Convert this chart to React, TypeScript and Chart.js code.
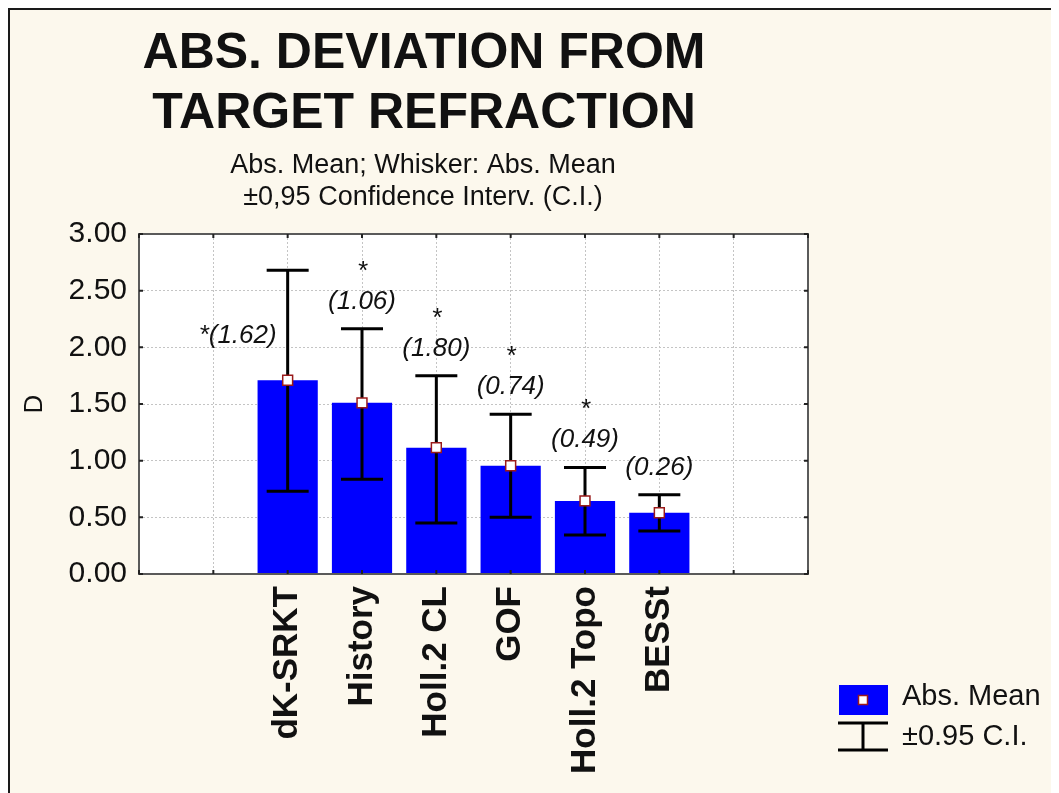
import { useEffect, useRef } from 'react';
import { Chart, registerables } from 'chart.js';

Chart.register(...registerables);

// ---- data ----
const categories = ['dK-SRKT', 'History', 'Holl.2 CL', 'GOF', 'Holl.2 Topo', 'BESSt'];
const absMean = [1.71, 1.51, 1.115, 0.955, 0.645, 0.54];
const ciLow = [0.73, 0.835, 0.45, 0.5, 0.345, 0.38];
const ciHigh = [2.68, 2.165, 1.75, 1.41, 0.94, 0.7];
const noteValues = [1.62, 1.06, 1.8, 0.74, 0.49, 0.26];
const significant = [true, true, true, true, true, false];
const notePlacement = ['left', 'above', 'above', 'above', 'above', 'above'];
const emptySlotsBefore = 2;
const emptySlotsAfter = 2;
const yMin = 0;
const yMax = 3;
const yStep = 0.5;
const titleLines = ['ABS. DEVIATION FROM', 'TARGET REFRACTION'];
const subtitleLines = ['Abs. Mean; Whisker: Abs. Mean', '±0,95 Confidence Interv. (C.I.)'];
const yAxisTitle = 'D';
const legendLabels = ['Abs. Mean', '±0.95 C.I.'];

// ---- styling ----
const FONT = '"Liberation Sans", Arial, Helvetica, sans-serif';
const BG = '#FCF8ED';
const TEXT = '#111111';
const BAR = '#0000FF';
const GRID = '#c4c4c4';
const W = 1051;
const H = 785;

const pad = (arr: (number | null)[]) => [
  ...Array(emptySlotsBefore).fill(null),
  ...arr,
  ...Array(emptySlotsAfter).fill(null),
];
const axisLabels = pad(categories.map(() => null)).map((_, i) =>
  i >= emptySlotsBefore && i < emptySlotsBefore + categories.length ? categories[i - emptySlotsBefore] : ''
);

const decor = {
  id: 'decor',
  beforeDraw(chart: any) {
    const { ctx, width, height, chartArea: a } = chart;
    ctx.save();
    ctx.fillStyle = BG;
    ctx.fillRect(0, 0, width, height);
    ctx.fillStyle = '#ffffff';
    ctx.fillRect(a.left, a.top, a.right - a.left, a.bottom - a.top);
    ctx.fillStyle = '#1a1a1a';
    ctx.fillRect(0, 0, width, 2);
    ctx.fillRect(0, 0, 2, height);
    ctx.restore();
  },
  afterDatasetDraw(chart: any, args: any) {
    if (args.index !== 0) return;
    const { ctx } = chart;
    const yS = chart.scales.y;
    const meta = chart.getDatasetMeta(0);
    ctx.save();
    ctx.strokeStyle = '#000';
    ctx.lineWidth = 3;
    ctx.lineCap = 'butt';
    categories.forEach((_, i) => {
      const el = meta.data[i + emptySlotsBefore];
      const x = el.x;
      const yh = yS.getPixelForValue(ciHigh[i]);
      const yl = yS.getPixelForValue(ciLow[i]);
      ctx.beginPath();
      ctx.moveTo(x, yh);
      ctx.lineTo(x, yl);
      ctx.moveTo(x - 21, yh);
      ctx.lineTo(x + 21, yh);
      ctx.moveTo(x - 21, yl);
      ctx.lineTo(x + 21, yl);
      ctx.stroke();
    });
    ctx.restore();
  },
  afterDraw(chart: any) {
    const { ctx, chartArea: a } = chart;
    const xS = chart.scales.x;
    const yS = chart.scales.y;
    const meta = chart.getDatasetMeta(0);
    ctx.save();
    // frame
    ctx.strokeStyle = '#5a5a5a';
    ctx.lineWidth = 2;
    ctx.strokeRect(a.left, a.top, a.right - a.left, a.bottom - a.top);
    // inner tick marks
    ctx.strokeStyle = '#222';
    ctx.lineWidth = 2;
    ctx.beginPath();
    yS.ticks.forEach((t: any) => {
      const y = yS.getPixelForValue(t.value);
      ctx.moveTo(a.left, y);
      ctx.lineTo(a.left + 4, y);
      ctx.moveTo(a.right - 4, y);
      ctx.lineTo(a.right, y);
    });
    xS.ticks.forEach((_: any, i: number) => {
      const x = xS.getPixelForTick(i);
      ctx.moveTo(x, a.top);
      ctx.lineTo(x, a.top + 4);
      ctx.moveTo(x, a.bottom - 4);
      ctx.lineTo(x, a.bottom);
    });
    ctx.stroke();

    // title
    ctx.fillStyle = TEXT;
    ctx.textAlign = 'center';
    ctx.textBaseline = 'alphabetic';
    ctx.font = `bold 50px ${FONT}`;
    titleLines.forEach((t, i) => ctx.fillText(t, 416, 60 + i * 60));
    ctx.font = `27px ${FONT}`;
    subtitleLines.forEach((t, i) => ctx.fillText(t, 415, 165 + i * 32));

    // notes
    ctx.font = `italic 26px ${FONT}`;
    categories.forEach((_, i) => {
      const x = meta.data[i + emptySlotsBefore].x;
      const yh = yS.getPixelForValue(ciHigh[i]);
      const txt = `(${noteValues[i].toFixed(2)})`;
      if (notePlacement[i] === 'left') {
        ctx.textAlign = 'right';
        ctx.fillText((significant[i] ? '*' : '') + txt, x - 11, yh + 73);
      } else {
        ctx.textAlign = 'center';
        const base = yh - 20;
        ctx.fillText(txt, x, base);
        if (significant[i]) ctx.fillText('*', x, base - 30);
      }
    });

    // legend
    ctx.fillStyle = BAR;
    ctx.fillRect(831, 677, 49, 30);
    ctx.fillStyle = '#fff';
    ctx.strokeStyle = '#9a1a1a';
    ctx.lineWidth = 1.5;
    ctx.fillRect(850.5, 687.5, 9, 9);
    ctx.strokeRect(850.5, 687.5, 9, 9);
    ctx.strokeStyle = '#000';
    ctx.lineWidth = 3;
    ctx.beginPath();
    ctx.moveTo(830, 715);
    ctx.lineTo(880, 715);
    ctx.moveTo(830, 742);
    ctx.lineTo(880, 742);
    ctx.moveTo(855, 715);
    ctx.lineTo(855, 742);
    ctx.stroke();
    ctx.fillStyle = TEXT;
    ctx.textAlign = 'left';
    ctx.font = `29px ${FONT}`;
    ctx.fillText(legendLabels[0], 894, 697);
    ctx.fillText(legendLabels[1], 894, 737);
    ctx.restore();
  },
};

export default function App() {
  const ref = useRef<HTMLCanvasElement | null>(null);
  useEffect(() => {
    if (!ref.current) return;
    Chart.defaults.font.family = FONT;
    const chart = new Chart(ref.current, {
      type: 'bar',
      data: {
        labels: axisLabels,
        datasets: [
          {
            type: 'bar',
            label: legendLabels[0],
            data: pad(absMean),
            backgroundColor: BAR,
            borderWidth: 0,
            categoryPercentage: 0.81,
            barPercentage: 1,
            order: 1,
          } as any,
          {
            type: 'line',
            label: legendLabels[0] + ' point',
            data: pad(absMean),
            showLine: false,
            pointStyle: 'rect',
            pointRadius: 7,
            pointBackgroundColor: '#ffffff',
            pointBorderColor: '#9a1a1a',
            pointBorderWidth: 1.5,
            order: 0,
          } as any,
        ],
      },
      options: {
        responsive: false,
        animation: false,
        layout: { padding: { left: 0, top: 226, right: 251, bottom: 0 } },
        plugins: {
          legend: { display: false },
          tooltip: { enabled: false },
          title: { display: false },
        },
        scales: {
          x: {
            type: 'category',
            offset: false,
            grid: { color: GRID, lineWidth: 1, drawTicks: false, offset: false },
            border: { display: false, dash: [2, 2] },
            ticks: {
              autoSkip: false,
              maxRotation: 90,
              minRotation: 90,
              padding: 12,
              color: TEXT,
              font: { family: FONT, size: 35, weight: 'bold' },
            },
            afterFit: (s: any) => {
              s.height = 219;
            },
          },
          y: {
            min: yMin,
            max: yMax,
            grid: { color: GRID, lineWidth: 1, drawTicks: false },
            border: { display: false, dash: [2, 2] },
            ticks: {
              stepSize: yStep,
              padding: 12,
              color: TEXT,
              font: { family: FONT, size: 30 },
              callback: (v: any) => Number(v).toFixed(2),
            },
            title: {
              display: true,
              text: yAxisTitle,
              color: TEXT,
              font: { family: FONT, size: 26 },
              padding: { top: 11, bottom: 0 },
            },
            afterFit: (s: any) => {
              s.width = 131;
            },
          },
        },
      } as any,
      plugins: [decor],
    });
    return () => chart.destroy();
  }, []);
  return (
    <div style={{ width: W, height: H }}>
      <canvas ref={ref} width={W} height={H} style={{ display: 'block' }} />
    </div>
  );
}
